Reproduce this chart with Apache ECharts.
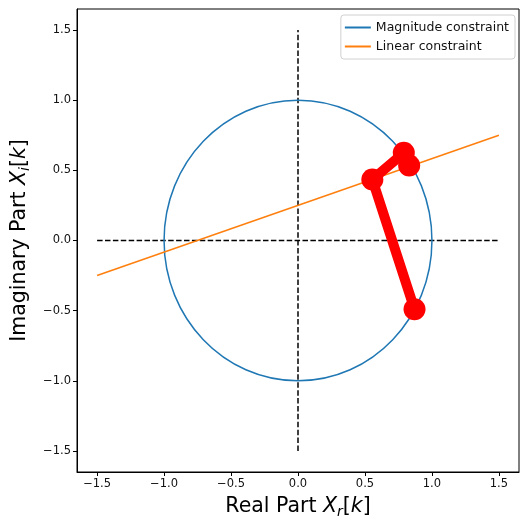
<!DOCTYPE html>
<html><head><meta charset="utf-8">
<script src="https://cdn.jsdelivr.net/npm/echarts@6/dist/echarts.min.js"></script>
<style>html,body{margin:0;padding:0;background:#fff}#c{width:521px;height:520px}</style>
</head><body><div id="c"></div>
<script>
const xTicks = [-1.5, -1.0, -0.5, 0.0, 0.5, 1.0, 1.5];
const yTicks = [-1.5, -1.0, -0.5, 0.0, 0.5, 1.0, 1.5];
const circleCenter = [0, 0];
const circleRadius = 1;
const linearConstraint = [[-1.5, -0.25], [1.5, 0.75]];
const hAxisLine = [[-1.5, 0], [1.5, 0]];
const vAxisLine = [[0, -1.5], [0, 1.5]];
const redPath = [[0.87, -0.49], [0.555, 0.435], [0.79, 0.625], [0.83, 0.535]];

const fmt = v => (v < 0 ? '\u2212' : '') + Math.abs(v).toFixed(1);
const font = 'DejaVu Sans';
const rich = {
  n: {fontFamily: font, fontSize: 20.5, color: '#000'},
  i: {fontFamily: font, fontSize: 20.5, fontStyle: 'italic', color: '#000'},
  s: {fontFamily: font, fontSize: 14, fontStyle: 'italic', color: '#000', padding: [10, 0, 0, 0]}
};

const chart = echarts.init(document.getElementById('c'), null, {renderer: 'canvas'});
chart.setOption({
  animation: false,
  backgroundColor: '#fff',
  grid: {left: 77, right: 2, top: 9, bottom: 48, show: true, borderColor: '#000', borderWidth: 1,
         containLabel: false, outerBoundsMode: 'none'},
  legend: {
    right: 6, top: 15, orient: 'vertical', itemGap: 6,
    itemWidth: 26, itemHeight: 2, icon: 'rect',
    padding: [6, 6, 6, 4],
    borderColor: '#d0d0d0', borderWidth: 1, borderRadius: 3,
    backgroundColor: 'rgba(255,255,255,0.8)',
    textStyle: {fontFamily: font, fontSize: 12.5, color: '#111'},
    data: [
      {name: 'Magnitude constraint', itemStyle: {color: '#1f77b4'}},
      {name: 'Linear constraint', itemStyle: {color: '#ff7f0e'}}
    ]
  },
  xAxis: {
    type: 'value', min: -1.65, max: 1.65,
    splitLine: {show: false},
    axisLine: {show: true, onZero: false, lineStyle: {color: '#000', width: 1}},
    axisTick: {show: true, length: 4, customValues: xTicks, lineStyle: {color: '#000'}},
    axisLabel: {customValues: xTicks, formatter: fmt, fontFamily: font, fontSize: 11.5, color: '#111', margin: 6},
    name: '{n|Real Part }{i|X}{s|r}{n|[}{i|k}{n|]}',
    nameLocation: 'middle', nameGap: 23,
    nameTextStyle: {verticalAlign: 'top', rich: rich}
  },
  yAxis: {
    type: 'value', min: -1.65, max: 1.65,
    splitLine: {show: false},
    axisLine: {show: true, onZero: false, lineStyle: {color: '#000', width: 1}},
    axisTick: {show: true, length: 4, customValues: yTicks, lineStyle: {color: '#000'}},
    axisLabel: {customValues: yTicks, formatter: fmt, fontFamily: font, fontSize: 11.5, color: '#111', margin: 6},
    name: '{n|Imaginary Part }{i|X}{s|i}{n|[}{i|k}{n|]}',
    nameLocation: 'middle', nameGap: 45, nameRotate: 90,
    nameTextStyle: {rich: rich}
  },
  series: [
    {
      name: 'Magnitude constraint', type: 'custom', z: 3,
      data: [[circleCenter[0], circleCenter[1], circleRadius]],
      renderItem: (params, api) => {
        const c = api.coord([api.value(0), api.value(1)]);
        const s = api.size([api.value(2), api.value(2)]);
        return {
          type: 'ellipse',
          shape: {cx: c[0], cy: c[1], rx: s[0], ry: s[1]},
          style: {fill: 'none', stroke: '#1f77b4', lineWidth: 1.5}
        };
      }
    },
    {
      name: 'Linear constraint', type: 'line', z: 3, data: linearConstraint,
      showSymbol: false, symbol: 'none',
      lineStyle: {color: '#ff7f0e', width: 1.5}, itemStyle: {color: '#ff7f0e'}
    },
    {
      name: 'hline', type: 'line', z: 2, data: hAxisLine, symbol: 'none',
      lineStyle: {color: '#000', width: 1.5, type: [5.5, 2.4]}
    },
    {
      name: 'vline', type: 'line', z: 2, data: vAxisLine, symbol: 'none',
      lineStyle: {color: '#000', width: 1.5, type: [5.5, 2.4]}
    },
    {
      name: 'path', type: 'line', z: 5, data: redPath,
      symbol: 'circle', symbolSize: 22, showSymbol: true,
      lineStyle: {color: '#ff0000', width: 10},
      itemStyle: {color: '#ff0000'}
    }
  ]
});
</script></body></html>
